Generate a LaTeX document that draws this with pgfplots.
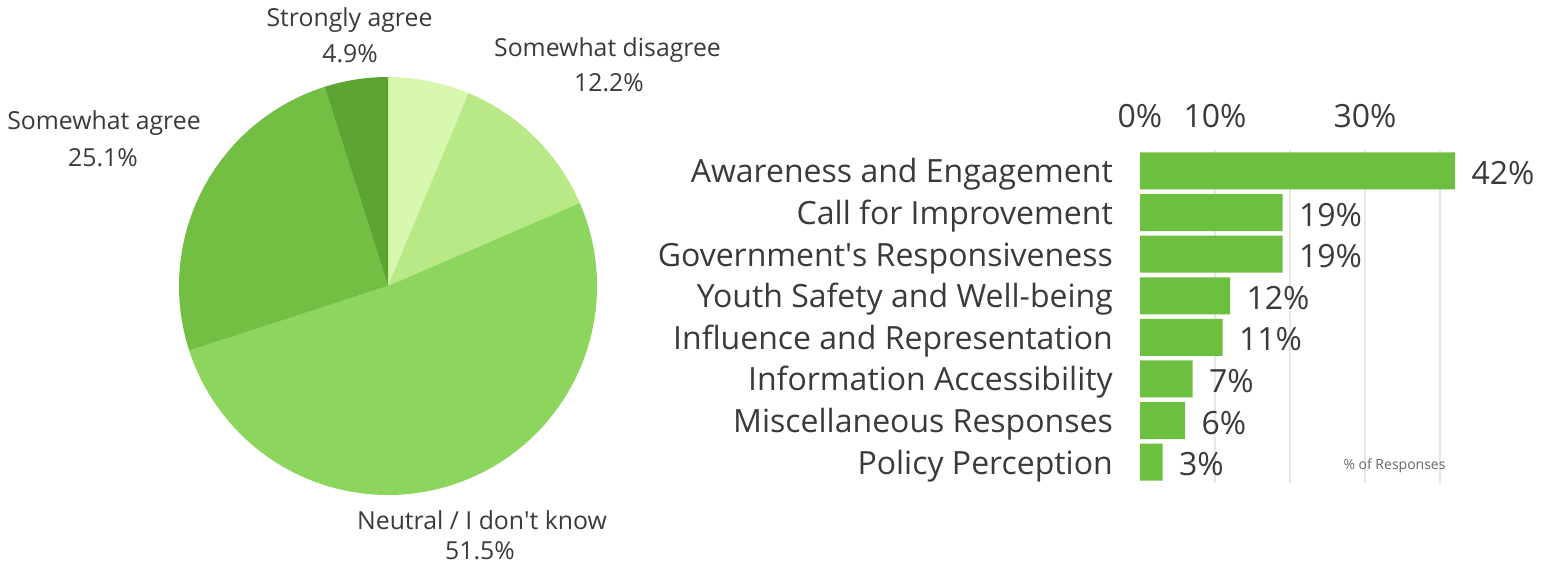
\documentclass[border=0pt]{standalone}
\usepackage{fontspec}
\setmainfont{Open Sans}
\usepackage{pgfplots}
\pgfplotsset{compat=1.18}
\definecolor{txt}{HTML}{3A3A3A}
\definecolor{pA}{HTML}{D8F8B0}
\definecolor{pB}{HTML}{B9E986}
\definecolor{pC}{HTML}{8DD65E}
\definecolor{pD}{HTML}{72BF44}
\definecolor{pE}{HTML}{5CA533}
\definecolor{barc}{HTML}{6DBF40}
\definecolor{gridc}{HTML}{E6E6E6}
\newcommand{\bigfs}{\fontsize{32}{38}\selectfont}
\newcommand{\midfs}{\fontsize{24.8}{30}\selectfont}
\begin{document}
\begin{tikzpicture}[x=1pt,y=1pt]
\path (0,0) rectangle (1549,564);
% ---------- pie (values in %, clockwise from 12 o'clock) ----------
\begin{axis}[at={(0pt,0pt)}, anchor=south west, x=1pt, y=1pt,
  xmin=0, xmax=1549, ymin=0, ymax=564, hide axis, clip=false,
  disabledatascaling, scale only axis]
\fill[pA] (axis cs:388,278) -- ++(90:209) arc[start angle=90, end angle={90-3.6*6.3}, radius=209] -- cycle;
\fill[pB] (axis cs:388,278) -- ++({90-3.6*6.3}:209) arc[start angle={90-3.6*6.3}, end angle={90-3.6*(6.3+12.2)}, radius=209] -- cycle;
\fill[pC] (axis cs:388,278) -- ++({90-3.6*18.5}:209) arc[start angle={90-3.6*18.5}, end angle={90-3.6*(18.5+51.5)}, radius=209] -- cycle;
\fill[pD] (axis cs:388,278) -- ++({90-3.6*70}:209) arc[start angle={90-3.6*70}, end angle={90-3.6*(70+25.1)}, radius=209] -- cycle;
\fill[pE] (axis cs:388,278) -- ++({90-3.6*95.1}:209) arc[start angle={90-3.6*95.1}, end angle={90-3.6*(95.1+4.9)}, radius=209] -- cycle;
\end{axis}
% ---------- bar chart ----------
\begin{axis}[at={(1140pt,81pt)}, anchor=south west, scale only axis,
  x=7.5pt, y=41.6pt, xmin=0, xmax=43, ymin=-0.5, ymax=7.5, y dir=reverse,
  axis line style={draw=none}, tick style={draw=none},
  xtick={0,10,30}, xticklabels={0\%,10\%,30\%}, xticklabel pos=upper,
  xticklabel style={font=\bigfs, text=txt, anchor=base, inner sep=0pt, yshift=23pt},
  extra x ticks={10,20,30,40}, extra x tick labels={},
  extra x tick style={grid=major, major grid style={draw=gridc, line width=1.2pt}},
  ytick={0,...,7},
  yticklabels={Awareness and Engagement, Call for Improvement, Government\textquotesingle s Responsiveness, Youth Safety and Well-being, Influence and Representation, Information Accessibility, Miscellaneous Responses, Policy Perception},
  yticklabel style={font=\bigfs, text=txt, anchor=base east, inner sep=0pt, xshift=-27pt, yshift=-12pt},
  nodes near coords={\pgfmathprintnumber[assume math mode=true]{\pgfplotspointmeta}\%},
  point meta=x,
  every node near coord/.append style={font=\bigfs, text=txt, anchor=west, xshift=13pt, yshift=-2pt},
  clip=false]
\addplot[xbar, fill=barc, draw=none, bar width=37pt] coordinates {(42,0) (19,1) (19,2) (12,3) (11,4) (7,5) (6,6) (3,7)};
\end{axis}
\node[font=\fontsize{14}{16}\selectfont, text=black!60, anchor=base] at (1394.5,94) {\% of Responses};
% ---------- pie labels ----------
\begin{scope}[every node/.style={font=\midfs, text=txt, anchor=base, inner sep=0pt}]
\node at (349.5,537) {Strongly agree};
\node at (350,501) {4.9\%};
\node at (607.5,507) {Somewhat disagree};
\node at (609,472) {12.2\%};
\node at (104,434) {Somewhat agree};
\node at (103,397) {25.1\%};
\node at (482,34) {Neutral / I don\textquotesingle t know};
\node at (480,4) {51.5\%};
\end{scope}
\end{tikzpicture}
\end{document}
